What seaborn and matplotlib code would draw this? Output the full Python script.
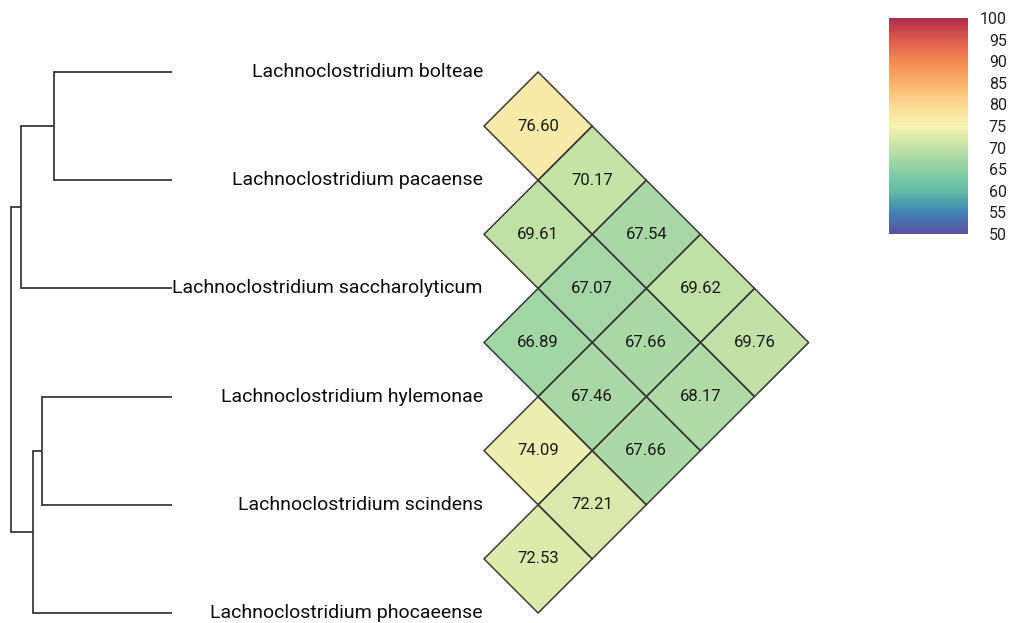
import numpy as np
import matplotlib
matplotlib.use("Agg")
import matplotlib.pyplot as plt
import matplotlib.transforms as mtransforms
from matplotlib.patches import Rectangle
import seaborn as sns

species = ["Lachnoclostridium bolteae", "Lachnoclostridium pacaense",
           "Lachnoclostridium saccharolyticum", "Lachnoclostridium hylemonae",
           "Lachnoclostridium scindens", "Lachnoclostridium phocaeense"]

# pairwise identity, each row = one species vs the ones below it
ani_bolteae = [76.60, 70.17, 67.54, 69.62, 69.76]
ani_pacaense = [69.61, 67.07, 67.66, 68.17]
ani_saccharolyticum = [66.89, 67.46, 67.66]
ani_hylemonae = [74.09, 72.21]
ani_scindens = [72.53]

# dendrogram merges (child a, child b, height), scipy-style node ids
merge_left = [0, 6, 3, 8, 7]
merge_right = [1, 2, 4, 5, 9]
merge_height = [0.733, 0.938, 0.807, 0.863, 1.0]

cbar_ticks = list(range(50, 101, 5))

# spectral-like ramp, 50 -> 100
ramp = ["#5b4f9f", "#3f84b5", "#63bea2", "#8dcfa5", "#c4e2a6", "#f6f2b2",
        "#fcd993", "#fbb06a", "#f58a55", "#dc5a4c", "#ae2f4b"]
cmap = sns.blend_palette(ramp, n_colors=256, as_cmap=True)

sns.set_theme(style="white")
plt.rcParams['font.family'] = ['Roboto', 'DejaVu Sans']

n = len(species)
mat = np.full((n, n), np.nan)
rows = [ani_bolteae, ani_pacaense, ani_saccharolyticum, ani_hylemonae, ani_scindens]
for i, r in enumerate(rows):
    mat[i, i + 1:] = r
mask = np.isnan(mat)

W, H = 1012, 623
fig = plt.figure(figsize=(W / 100, H / 100), dpi=100)

# main axes: one row unit = 108.2 px, diamond tip at x=484px
unit = 108.2
x_lim = (-484 / unit, (W - 484) / unit)
y_lim = ((H - 72) / unit, -72 / unit)

ax = fig.add_axes([0, 0, 1, 1])
cax = fig.add_axes([889 / W, 1 - 234 / H, (968 - 889) / W, (234 - 18) / H])

sns.heatmap(mat, mask=mask, cmap=cmap, vmin=50, vmax=100,
            annot=True, fmt=".2f", annot_kws={"size": 12, "color": "#1a1a1a"},
            linewidths=0, cbar_ax=cax, ax=ax)
mesh = ax.collections[0]
mesh.set_antialiased(True)

# rotate the triangle 45 degrees so it sits between the leaves
rot = mtransforms.Affine2D(np.array([[0.5, -0.5, 0.0],
                                     [0.5, 0.5, -0.5],
                                     [0.0, 0.0, 1.0]]))
mesh.set_transform(rot + ax.transData)
for t in ax.texts:
    t.set_transform(rot + ax.transData)

# outline only the filled cells
for i, j in zip(*np.nonzero(~mask)):
    ax.add_patch(Rectangle((j, i), 1, 1, fill=False, edgecolor="#3a3a3a",
                           linewidth=1.1, transform=rot + ax.transData))

ax.set_xlim(*x_lim)
ax.set_ylim(*y_lim)
ax.axis("off")

for i, name in enumerate(species):
    ax.text(-0.01, i, name, ha="right", va="center", fontsize=14, color="#0d0d0d")

# colorbar
cbar = mesh.colorbar
cbar.set_ticks(cbar_ticks)
cbar.outline.set_visible(False)
cax.tick_params(length=0, labelsize=11.5, pad=28, colors="#222222")
for lab in cax.get_yticklabels():
    lab.set_horizontalalignment("right")

# dendrogram
dax = fig.add_axes([11 / W, 0, (172 - 11) / W, 1])
dax.set_xlim(1.0, 0.0)
dax.set_ylim(*y_lim)
dax.axis("off")
pos = {i: (float(i), 0.0) for i in range(n)}
for k, (a, b, h) in enumerate(zip(merge_left, merge_right, merge_height)):
    ya, ha = pos[a]
    yb, hb = pos[b]
    kw = dict(color="#3a3a3a", lw=1.3, clip_on=False)
    dax.plot([ha, h], [ya, ya], solid_capstyle="butt", **kw)
    dax.plot([hb, h], [yb, yb], solid_capstyle="butt", **kw)
    dax.plot([h, h], [ya, yb], solid_capstyle="projecting", **kw)
    pos[n + k] = ((ya + yb) / 2, h)

fig.savefig("out.png", dpi=100)
